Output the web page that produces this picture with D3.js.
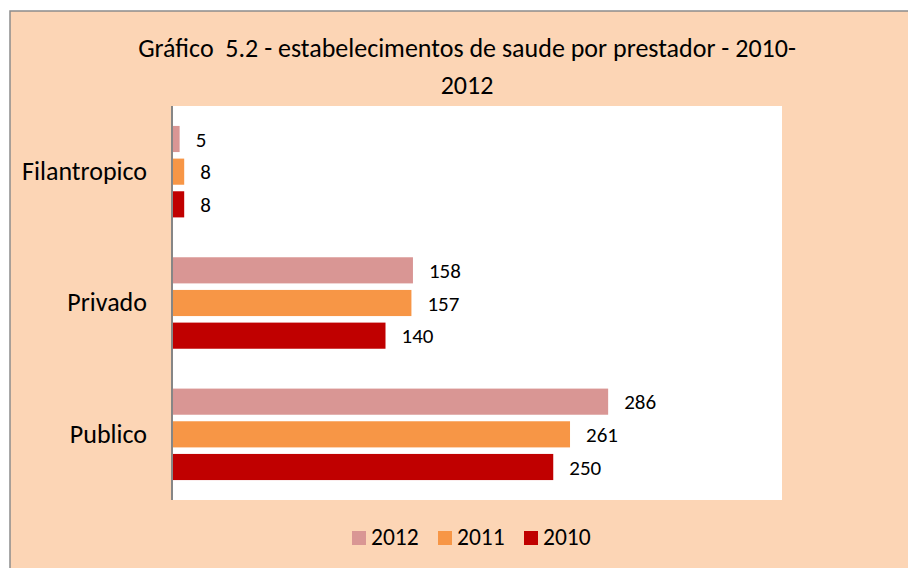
<!DOCTYPE html>
<html>
<head>
<meta charset="utf-8">
<script src="https://cdn.jsdelivr.net/npm/d3@7"></script>
<style>
    html, body { margin: 0; padding: 0; background: #fff; }
    svg { display: block; font-family: Carlito, Lato, sans-serif; }
    .title { white-space: pre; }
</style>
</head>
<body>
<svg id="chart" width="908" height="568"></svg>
<script>
// Data
const categories = ['Filantropico', 'Privado', 'Publico'];
const seriesNames = ['2012', '2011', '2010'];
const values2012 = [5, 158, 286];
const values2011 = [8, 157, 261];
const values2010 = [8, 140, 250];
const seriesColors = ['#d99694', '#f79646', '#c00000'];
const titleLines = ['Gráfico  5.2 - estabelecimentos de saude por prestador - 2010-', '2012'];

const seriesValues = [values2012, values2011, values2010];

const svg = d3.select('#chart');

// Chart frame
svg.append('rect')
    .attr('x', 10).attr('y', 11)
    .attr('width', 930).attr('height', 580)
    .attr('fill', '#fcd5b5')
    .attr('stroke', '#8c8c8c')
    .attr('stroke-width', 1.5);

// Plot area
const plot = { left: 172, right: 782, top: 106, bottom: 500 };

svg.append('rect')
    .attr('x', plot.left).attr('y', plot.top)
    .attr('width', plot.right - plot.left)
    .attr('height', plot.bottom - plot.top)
    .attr('fill', '#fff');

// Title
svg.append('text')
    .attr('class', 'title')
    .attr('text-anchor', 'middle')
    .attr('font-size', 26)
    .attr('fill', '#000')
    .selectAll('tspan')
    .data(titleLines)
    .join('tspan')
    .attr('x', 467)
    .attr('y', (d, i) => 57 + i * 37)
    .text(d => d);

// Scales
const x = d3.scaleLinear().domain([0, 400]).range([plot.left, plot.right]);
const y0 = d3.scaleBand().domain(categories).range([plot.top, plot.bottom]).padding(0);
const y1 = d3.scaleBand().domain(seriesNames).range([0, y0.bandwidth()])
    .paddingInner(0.2).paddingOuter(0.61);

// Bars
const rows = [];
categories.forEach((c, ci) => {
    seriesNames.forEach((s, si) => {
        rows.push({ cat: c, series: s, value: seriesValues[si][ci], color: seriesColors[si] });
    });
});

const groups = svg.append('g').attr('class', 'bars');

groups.selectAll('rect')
    .data(rows)
    .join('rect')
    .attr('x', x(0))
    .attr('y', d => y0(d.cat) + y1(d.series))
    .attr('width', d => x(d.value) - x(0))
    .attr('height', y1.bandwidth())
    .attr('fill', d => d.color);

// Value labels
groups.selectAll('text')
    .data(rows)
    .join('text')
    .attr('x', d => x(d.value) + 16)
    .attr('y', d => y0(d.cat) + y1(d.series) + y1.bandwidth() / 2)
    .attr('dy', '0.36em')
    .attr('font-size', 21)
    .attr('fill', '#000')
    .text(d => d.value);

// Category axis
const yAxis = svg.append('g')
    .attr('transform', `translate(${plot.left},0)`)
    .call(d3.axisLeft(y0).tickSize(0).tickPadding(25));

yAxis.select('.domain')
    .attr('d', `M0,${plot.top}V${plot.bottom}`)
    .attr('stroke', '#868686')
    .attr('stroke-width', 2);

yAxis.selectAll('text')
    .attr('font-size', 26)
    .attr('font-family', 'Carlito, Lato, sans-serif')
    .attr('fill', '#000');

// Legend
const legendX = [352, 438, 524];
const legend = svg.append('g')
    .selectAll('g')
    .data(seriesNames)
    .join('g')
    .attr('transform', (d, i) => `translate(${legendX[i]},531)`);

legend.append('rect')
    .attr('width', 14).attr('height', 14)
    .attr('fill', (d, i) => seriesColors[i]);

legend.append('text')
    .attr('x', 19).attr('y', 13.5)
    .attr('font-size', 23.5)
    .attr('fill', '#000')
    .text(d => d);
</script>
</body>
</html>
